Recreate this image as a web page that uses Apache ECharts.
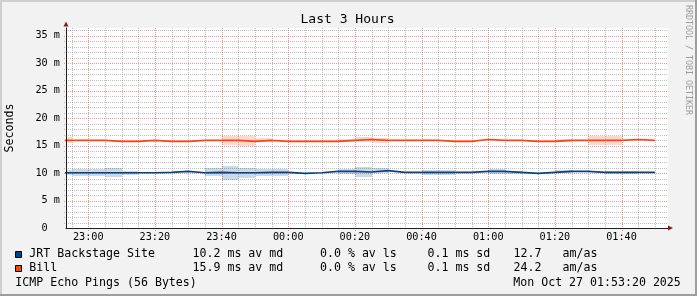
<!DOCTYPE html>
<html>
<head>
<meta charset="utf-8">
<script src="https://cdn.jsdelivr.net/npm/echarts@6/dist/echarts.min.js"></script>
<style>
html,body{margin:0;padding:0;background:#f2f2f2;}
#chart{width:697px;height:296px;}
</style>
</head>
<body>
<div id="chart"></div>
<script>
// ---------------- data ----------------
const chartTitle = 'Last 3 Hours';
const yAxisTitle = 'Seconds';
const watermark = 'RRDTOOL / TOBI OETIKER';
const windowStart = '22:53:20';
const windowEnd = '01:53:20';

// 5-minute step boundaries (each value holds from stepTimes[i] to stepTimes[i+1])
const stepTimes = ['22:50','22:55','23:00','23:05','23:10','23:15','23:20','23:25','23:30','23:35',
  '23:40','23:45','23:50','23:55','00:00','00:05','00:10','00:15','00:20','00:25','00:30','00:35',
  '00:40','00:45','00:50','00:55','01:00','01:05','01:10','01:15','01:20','01:25','01:30','01:35',
  '01:40','01:45','01:50'];

// median RTT (ms) and std-deviation smoke (ms)
const jrtMedian = [10.06,10.06,10.06,10.06,10.06,10.06,10.12,10.30,10.06,10.12,10.06,10.06,10.12,
  10.12,9.94,10.06,10.30,10.30,10.20,10.45,10.12,10.12,10.12,10.12,10.12,10.30,10.30,10.12,9.94,
  10.12,10.30,10.30,10.12,10.12,10.12,10.12];
const jrtSd = [1.0,1.33,1.2,1.6,0.8,0,0,0,0,1.45,2.6,1.9,1.2,1.2,0,0,0,1.0,1.8,0.85,0,0,0.8,0.8,0,
  0,0.8,0.55,0,0,0.5,0,0,0.55,0.55,0];
const billMedian = [15.94,15.94,15.94,15.76,15.76,15.94,15.76,15.76,15.94,15.94,15.94,15.76,15.94,
  15.76,15.76,15.76,15.76,15.94,16.12,15.94,15.94,15.94,15.94,15.76,15.76,16.12,15.94,15.94,15.76,
  15.76,15.94,15.94,15.94,15.94,16.12,15.94];
const billSd = [1.1,0,0,0,0,0,0,0,0,0,1.75,1.8,0.7,0,0,0,0,0.65,0.9,0.9,0,0,0,0,0,0,0,0,0,0,0.6,0,
  1.7,1.5,0,0];

// tick labels
const xMajorTimes = ['23:00','23:20','23:40','00:00','00:20','00:40','01:00','01:20','01:40'];
const yMajorValues = [0,5,10,15,20,25,30,35];
const yMax = 36.4;

// legend
const legendNames = ['JRT Backstage Site','Bill'];
const legendColors = ['#004586','#ff420e'];
const legendMedian = ['10.2 ms av md','15.9 ms av md'];
const legendLoss = ['0.0 % av ls','0.0 % av ls'];
const legendSd = ['0.1 ms sd','0.1 ms sd'];
const legendAmas = ['12.7','24.2'];
const legendUnit = ['am/as','am/as'];
const footerLeft = 'ICMP Echo Pings (56 Bytes)';
const footerRight = 'Mon Oct 27 01:53:20 2025';

// ---------------- helpers ----------------
function toMin(s){
  const p = s.split(':').map(Number);
  let h = p[0]; if (h < 12) h += 24;
  return h*60 + p[1] + (p[2]||0)/60 - 22*60;
}
function fmtTime(m){
  const tot = Math.round(m);
  const h = (22 + Math.floor(tot/60)) % 24;
  const mm = tot % 60;
  return String(h).padStart(2,'0') + ':' + String(mm).padStart(2,'0');
}
const FONT = '"DejaVu Sans Mono", monospace';
const GRID_C = 'rgba(140,140,140,0.55)';
const MGRID_C = 'rgba(222,79,79,0.6)';

const xMin = toMin(windowStart);
const xMax = toMin(windowEnd) + 0.6;
const xMajor = xMajorTimes.map(toMin);
const xGridVals = [], xGridMajor = [];
for (let m = toMin('22:55'); m <= toMin('01:50'); m += 5) { xGridVals.push(m); xGridMajor.push(xMajor.indexOf(m) >= 0); }
const yGridVals = [], yGridMajor = [];
for (let v = 1; v <= 36; v++) { yGridVals.push(v); yGridMajor.push(v % 5 === 0); }

function stepData(vals){
  return stepTimes.map((t,i) => [toMin(t), vals[Math.min(i, vals.length-1)]]);
}
function bandData(med, sd){
  return med.map((v,i) => [toMin(stepTimes[i]), toMin(stepTimes[i+1]), v - sd[i]/2, v + sd[i]/2]);
}

const series = [];
// grid lines (positioned through the axes' scales, snapped to pixels)
series.push({
  type:'custom', name:'vgrid', data:xGridVals.map(v => [v]), encode:{x:0}, clip:false, silent:true, z:1,
  renderItem:(params, api) => {
    const a = api.coord([api.value(0), 0]);
    const b = api.coord([api.value(0), yMax]);
    const x = Math.round(a[0]) + 0.5;
    const major = xGridMajor[params.dataIndex];
    return {type:'line', shape:{x1:x, y1:Math.round(b[1]), x2:x, y2:Math.round(a[1]) + (major ? 3 : 2)},
      style:{stroke: major ? MGRID_C : GRID_C, lineWidth:1, lineDash:[1,1]}};
  }
});
series.push({
  type:'custom', name:'hgrid', data:yGridVals.map(v => [v]), encode:{y:0}, clip:false, silent:true, z:1,
  renderItem:(params, api) => {
    const a = api.coord([xMin, api.value(0)]);
    const b = api.coord([xMax, api.value(0)]);
    const y = Math.round(a[1]) + 0.5;
    const major = yGridMajor[params.dataIndex];
    return {type:'line', shape:{x1:Math.round(a[0]) - 2, y1:y, x2:Math.round(b[0]), y2:y},
      style:{stroke: major ? MGRID_C : GRID_C, lineWidth:1, lineDash:[1,1]}};
  }
});

const hosts = [
  {name: legendNames[0], med: jrtMedian, sd: jrtSd, color: legendColors[0], smoke: 'rgba(0,69,134,0.20)'},
  {name: legendNames[1], med: billMedian, sd: billSd, color: legendColors[1], smoke: 'rgba(255,66,14,0.20)'}
];
hosts.forEach((h) => {
  series.push({
    type:'custom', name:h.name+' smoke', data: bandData(h.med, h.sd), clip:true, silent:true, z:2,
    encode:{x:[0,1], y:[2,3]},
    renderItem:(params, api) => {
      const a = api.coord([api.value(0), api.value(3)]);
      const b = api.coord([api.value(1), api.value(2)]);
      const x0 = Math.round(a[0]), x1 = Math.round(b[0]);
      const y0 = Math.round(a[1]), y1 = Math.round(b[1]);
      if (y1 - y0 <= 0) return null;
      return {type:'rect', shape:{x:x0, y:y0, width:x1-x0, height:y1-y0}, style:{fill:h.smoke}};
    }
  });
});
hosts.forEach((h) => {
  series.push({type:'line', name:h.name, step:'end', data: stepData(h.med), symbol:'none',
    lineStyle:{width:1.6, color:h.color}, silent:true, z:4});
});

// ---------------- graphic texts ----------------
const graphic = [
  {type:'rect', shape:{x:0,y:0,width:697,height:2}, style:{fill:'#cfcfcf'}, silent:true},
  {type:'rect', shape:{x:0,y:0,width:2,height:296}, style:{fill:'#cfcfcf'}, silent:true},
  {type:'rect', shape:{x:0,y:294,width:697,height:2}, style:{fill:'#9e9e9e'}, silent:true},
  {type:'rect', shape:{x:695,y:0,width:2,height:296}, style:{fill:'#9e9e9e'}, silent:true},
  {type:'text', x:347.5, y:19.3, style:{text:chartTitle, font:'13px '+FONT, fill:'#000', align:'center', verticalAlign:'middle'}},
  {type:'text', x:10, y:128, rotation:Math.PI/2, style:{text:yAxisTitle, font:'11.6px '+FONT, fill:'#000', align:'center', verticalAlign:'middle'}},
  {type:'text', x:688.5, y:60, rotation:-Math.PI/2, style:{text:watermark, font:'8.3px '+FONT, fill:'#9c9c9c', align:'center', verticalAlign:'middle'}}
];
const rowY = [254.3, 268];
const boxY = [251.5, 265.5];
legendNames.forEach((n, i) => {
  const y = rowY[i];
  graphic.push({type:'rect', shape:{x:15.5, y:boxY[i], width:6, height:6}, style:{fill:legendColors[i], stroke:'#000', lineWidth:1}});
  const cols = [[29.3, n],[192.5, legendMedian[i]],[320, legendLoss[i]],[427.5, legendSd[i]],[513.5, legendAmas[i]],[562.5, legendUnit[i]]];
  cols.forEach(c => graphic.push({type:'text', x:c[0], y:y, style:{text:c[1], font:'11.6px '+FONT, fill:'#000', align:'left', verticalAlign:'middle'}}));
});
graphic.push({type:'text', x:15.3, y:282.5, style:{text:footerLeft, font:'11.6px '+FONT, fill:'#000', align:'left', verticalAlign:'middle'}});
graphic.push({type:'text', x:680.8, y:282.5, style:{text:footerRight, font:'11.6px '+FONT, fill:'#000', align:'right', verticalAlign:'middle'}});

// ---------------- chart ----------------
const chart = echarts.init(document.getElementById('chart'), null, {renderer:'canvas'});
chart.setOption({
  animation:false,
  backgroundColor:'#f2f2f2',
  grid:{left:66, right:29, top:28, bottom:68, show:true, backgroundColor:'#ffffff', borderWidth:0},
  xAxis:[
    {type:'value', min:xMin, max:xMax, position:'bottom', z:5,
     axisLine:{show:true, onZero:false, lineStyle:{color:'#1f1f1f', width:1}},
     axisTick:{show:false},
     axisLabel:{show:true, customValues:xMajor, formatter:v => fmtTime(v), fontFamily:FONT, fontSize:10.2, color:'#000', margin:4},
     splitLine:{show:false}},
    {type:'value', min:xMin, max:xMax, position:'bottom', offset:0, z:5,
     axisLine:{show:true, onZero:false, symbol:['none','triangle'], symbolSize:[5,5], symbolOffset:[0,2.5], lineStyle:{color:'#801f1f', width:0}},
     axisTick:{show:false}, axisLabel:{show:false}, splitLine:{show:false}}
  ],
  yAxis:[
    {type:'value', min:0, max:yMax, position:'left', z:5,
     axisLine:{show:true, onZero:false, lineStyle:{color:'#1f1f1f', width:1}},
     axisTick:{show:false},
     axisLabel:{show:true, customValues:yMajorValues, formatter:v => v === 0 ? '0  ' : v + ' m', fontFamily:FONT, fontSize:10.2, color:'#000', margin:6},
     splitLine:{show:false}},
    {type:'value', min:0, max:yMax, position:'left', offset:0, z:5,
     axisLine:{show:true, onZero:false, symbol:['none','triangle'], symbolSize:[5,5], symbolOffset:[0,4], lineStyle:{color:'#801f1f', width:0}},
     axisTick:{show:false}, axisLabel:{show:false}, splitLine:{show:false}}
  ],
  series: series,
  graphic: graphic
});
</script>
</body>
</html>
